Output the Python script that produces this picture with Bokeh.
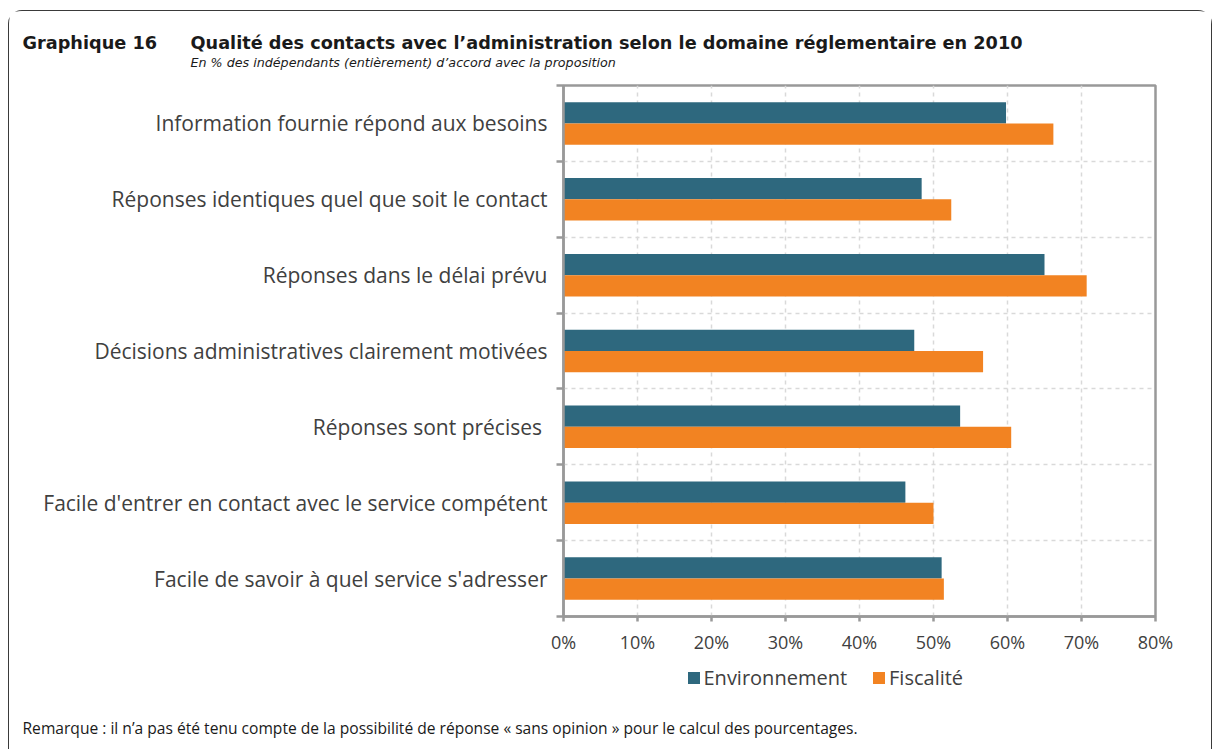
from bokeh.plotting import figure
from bokeh.layouts import column
from bokeh.models import (Range1d, FixedTicker, PrintfTickFormatter, Legend,
                          LegendItem, ColumnDataSource)
from bokeh.core.properties import value
from bokeh.transform import dodge
from bokeh.embed import file_html
from bokeh.resources import INLINE

categories = [
    "Information fournie répond aux besoins",
    "Réponses identiques quel que soit le contact",
    "Réponses dans le délai prévu",
    "Décisions administratives clairement motivées",
    "Réponses sont précises ",
    "Facile d'entrer en contact avec le service compétent",
    "Facile de savoir à quel service s'adresser",
]
environnement = [59.8, 48.4, 65.0, 47.4, 53.6, 46.2, 51.1]
fiscalite = [66.2, 52.4, 70.7, 56.7, 60.5, 50.0, 51.4]
x_ticks = [0, 10, 20, 30, 40, 50, 60, 70, 80]
series_names = ["Environnement", "Fiscalité"]

TEAL = "#2E687E"
ORANGE = "#F28322"
TXT = "#404040"
FONT = "Open Sans"
TFONT = "DejaVu Sans"
W = 1202

# ---------------- header ----------------
hdr = figure(width=W, height=64, output_backend="svg", toolbar_location=None,
             x_range=Range1d(0, W), y_range=Range1d(64, 0),
             min_border=0, x_axis_type=None, y_axis_type=None,
             outline_line_color=None, background_fill_color="white", border_fill_color="white")
hdr.grid.visible = False
hdr.text(x=[13, 181], y=[31, 31],
         text=["Graphique 16",
               "Qualité des contacts avec l’administration selon le domaine réglementaire en 2010"],
         text_font=value(TFONT), text_font_size="17.7px", text_font_style="bold",
         text_color="#1a1a1a", text_baseline="middle", text_align="left")
hdr.text(x=[181], y=[51],
         text=["En % des indépendants (entièrement) d’accord avec la proposition"],
         text_font=value(TFONT), text_font_size="12.7px", text_font_style="italic",
         text_color="#1a1a1a", text_baseline="middle", text_align="left")

# ---------------- main chart ----------------
n = len(categories)
pos = [n - 1 - i for i in range(n)]
src = ColumnDataSource(dict(pos=pos, cat=categories, env=environnement, fis=fiscalite))

p = figure(width=W, height=585, output_backend="svg", toolbar_location=None,
           x_range=Range1d(0, 80), y_range=Range1d(-0.5, n - 0.5),
           min_border_left=554, min_border_right=56, min_border_top=10, min_border_bottom=44,
           background_fill_color="white", border_fill_color="white")

r1 = p.hbar(y=dodge("pos", 0.14, range=p.y_range), left=0, right="env", height=0.28,
            source=src, fill_color=TEAL, line_color=None)
r2 = p.hbar(y=dodge("pos", -0.14, range=p.y_range), left=0, right="fis", height=0.28,
            source=src, fill_color=ORANGE, line_color=None)

p.outline_line_color = "#999999"
p.outline_line_width = 2.5

xt = FixedTicker(ticks=x_ticks)
ax = p.xaxis[0]
ax.ticker = xt
ax.formatter = PrintfTickFormatter(format="%d%%")
ax.major_label_text_font = FONT
ax.major_label_text_font_size = "18px"
ax.major_label_text_color = TXT
ax.axis_line_color = "#999999"
ax.axis_line_width = 2.5
ax.major_tick_line_color = "#999999"
ax.major_tick_line_width = 2.5
ax.major_tick_out = 5
ax.major_tick_in = 0
ax.minor_tick_line_color = None
ax.major_label_standoff = 8
p.xgrid.ticker = xt
p.xgrid.grid_line_color = "#d9d9d9"
p.xgrid.grid_line_width = 1.5
p.xgrid.grid_line_dash = "4 4"

yt = FixedTicker(ticks=pos, minor_ticks=[k - 0.5 for k in range(n + 1)])
ay = p.yaxis[0]
ay.ticker = yt
ay.major_label_overrides = {pp: c for pp, c in zip(pos, categories)}
ay.major_label_text_font = FONT
ay.major_label_text_font_size = "21px"
ay.major_label_text_color = TXT
ay.axis_line_color = "#999999"
ay.axis_line_width = 2.5
ay.major_tick_out = 0
ay.major_tick_in = 0
ay.major_tick_line_color = None
ay.minor_tick_out = 7
ay.minor_tick_in = 0
ay.minor_tick_line_color = "#999999"
ay.minor_tick_line_width = 2.5
ay.major_label_standoff = 9
p.ygrid.ticker = yt
p.ygrid.grid_line_color = None
p.ygrid.minor_grid_line_color = "#d9d9d9"
p.ygrid.minor_grid_line_width = 1.5
p.ygrid.minor_grid_line_dash = "4 4"

# ---------------- footer (legend + note) ----------------
ftr = figure(width=W, height=89, output_backend="svg", toolbar_location=None,
             x_range=Range1d(0, W), y_range=Range1d(89, 0),
             min_border=0, x_axis_type=None, y_axis_type=None,
             outline_line_color=None, background_fill_color="white", border_fill_color="white")
ftr.grid.visible = False
# zero-width swatch renderers, only used to draw the legend squares
swatch = ColumnDataSource(dict(y=[0], left=[0], right=[0]))
l1 = ftr.hbar(y="y", left="left", right="right", height=1, source=swatch,
              fill_color=TEAL, line_color=None)
l2 = ftr.hbar(y="y", left="left", right="right", height=1, source=swatch,
              fill_color=ORANGE, line_color=None)
legend = Legend(items=[LegendItem(label=series_names[0], renderers=[l1]),
                       LegendItem(label=series_names[1], renderers=[l2])],
                orientation="horizontal", location=(676.5, 58),
                glyph_width=15, glyph_height=15, label_standoff=3, spacing=24,
                padding=0, margin=0, border_line_color=None, background_fill_alpha=0,
                label_text_font=FONT, label_text_font_size="20px", label_text_color=TXT,
                label_height=20)
ftr.add_layout(legend, "center")
ftr.text(x=[13], y=[67],
         text=["Remarque : il n’a pas été tenu compte de la possibilité de réponse « sans opinion » pour le calcul des pourcentages."],
         text_font=value(FONT), text_font_size="15.6px", text_color="#1a1a1a",
         text_baseline="middle", text_align="left")

for f in (hdr, p, ftr):
    if "frame_align" in f.properties():
        f.frame_align = False

layout = column(hdr, p, ftr, spacing=0, margin=(10, 0, 0, 8),
                styles={"border-top": "1px solid #3a3a3a",
                        "border-left": "1px solid #3a3a3a",
                        "border-right": "1px solid #3a3a3a",
                        "border-radius": "14px 14px 0 0",
                        "background": "white"})

open("out.html", "w").write(file_html(layout, INLINE))
